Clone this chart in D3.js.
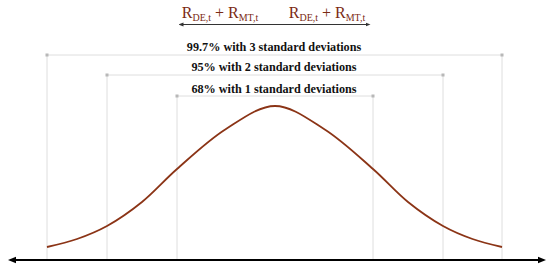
<!DOCTYPE html>
<html lang="en">
  <head>
    <meta charset="utf-8">
    <title>standard deviations</title>
    <style>
      body { margin: 0; background: #fff; }
    </style>
  </head>
  <body>

<script src="https://d3js.org/d3.v7.min.js"></script>

<script>

// data
var sigma = [-3, -2.5, -2, -1.5, -1, -0.5, 0, 0.5, 1, 1.5, 2, 2.5, 3];
var height = [13, 21, 34, 58, 91, 131, 154, 131, 91, 58, 34, 21, 13];

var bands = [3, 2, 1];
var bandLabels = ["99.7% with 3 standard deviations", "95% with 2 standard deviations", "68% with 1 standard deviations"];

var W = 550, H = 268;
var axisY = 260;
var serif = "'Liberation Serif', 'Times New Roman', serif";

var svg = d3.select("body").append("svg")
            .attr("width", W)
            .attr("height", H);

// x is not evenly spaced in the picture, so a piecewise scale
var x = d3.scaleLinear()
          .domain([-3, -2, -1, 0, 1, 2, 3])
          .range([47, 107, 177, 275, 373, 443, 502]);

var y = d3.scaleLinear()
          .domain([0, 160])
          .range([axisY, axisY - 160]);

var defs = svg.append("defs");
function marker(id, color, size) {
	defs.append("marker")
	    .attr("id", id)
	    .attr("viewBox", "0 0 10 10")
	    .attr("refX", 5).attr("refY", 5)
	    .attr("markerWidth", size).attr("markerHeight", size)
	    .attr("orient", "auto-start-reverse")
	    .append("path")
	    .attr("d", "M0,1 L10,5 L0,9 z")
	    .attr("fill", color);
}
marker("arrAxis", "#000", 4);
marker("arrTop", "#333", 5);

// brackets
var lineY = [55, 75, 96];
var textY = [51, 71, 93];
bands.forEach(function(b, i) {
	svg.append("path")
	   .attr("d", "M" + x(-b) + "," + axisY + " L" + x(-b) + "," + lineY[i] +
	              " L" + x(b) + "," + lineY[i] + " L" + x(b) + "," + axisY)
	   .attr("fill", "none")
	   .attr("stroke", "#dedede")
	   .attr("stroke-width", 1);
	[-b, b].forEach(function(s) {
		svg.append("rect")
		   .attr("x", x(s) - 1.5).attr("y", lineY[i] - 1.5)
		   .attr("width", 3).attr("height", 3)
		   .attr("fill", "#b8b8b8");
	});
	svg.append("text")
	   .attr("x", x(0) - 1)
	   .attr("y", textY[i])
	   .attr("text-anchor", "middle")
	   .attr("font-family", serif)
	   .attr("font-size", 12.2)
	   .attr("font-weight", "bold")
	   .attr("fill", "#111")
	   .text(bandLabels[i]);
});

// curve
var line = d3.line()
             .x(function(d, i) { return x(sigma[i]); })
             .y(function(d) { return y(d); })
             .curve(d3.curveCatmullRom.alpha(0.5));

svg.append("path")
   .datum(height)
   .attr("d", line)
   .attr("fill", "none")
   .attr("stroke", "#8b3416")
   .attr("stroke-width", 1.8);

// axis
svg.append("line")
   .attr("x1", 12).attr("y1", axisY)
   .attr("x2", 542).attr("y2", axisY)
   .attr("stroke", "#000")
   .attr("stroke-width", 2)
   .attr("marker-start", "url(#arrAxis)")
   .attr("marker-end", "url(#arrAxis)");

// top formula
var formulaX = [220, 327];
formulaX.forEach(function(fx) {
	var t = svg.append("text")
	           .attr("x", fx)
	           .attr("y", 18)
	           .attr("text-anchor", "middle")
	           .attr("font-family", serif)
	           .attr("fill", "#7b2a14")
	           .attr("font-size", 16);
	t.append("tspan").text("R");
	t.append("tspan").attr("font-size", 10).attr("dy", 3).text("DE,t");
	t.append("tspan").attr("dy", -3).text(" + R");
	t.append("tspan").attr("font-size", 10).attr("dy", 3).text("MT,t");
});

svg.append("line")
   .attr("x1", 181).attr("y1", 24.5)
   .attr("x2", 368).attr("y2", 24.5)
   .attr("stroke", "#333")
   .attr("stroke-width", 1)
   .attr("marker-start", "url(#arrTop)")
   .attr("marker-end", "url(#arrTop)");

</script>

  </body>
</html>
